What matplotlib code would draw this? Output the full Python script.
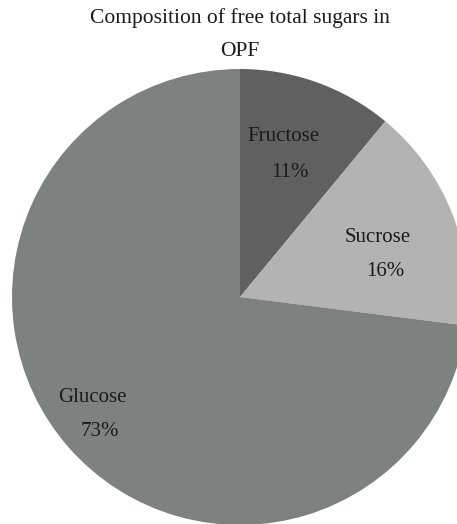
import matplotlib.pyplot as plt

# sugar composition of OPF
sugars = ['Fructose', 'Sucrose', 'Glucose']
shares = [11, 16, 73]
colors = ['#606060', '#b3b3b3', '#7f8080']

# label positions (data coords, pie radius = 1)
name_pos = [(0.189, 0.702), (0.603, 0.263), (-0.647, -0.439)]
pct_pos = [(0.219, 0.548), (0.636, 0.110), (-0.616, -0.592)]

plt.rcParams['font.family'] = ['Liberation Serif', 'DejaVu Serif']

fig = plt.figure(figsize=(4.57, 5.24), dpi=100)
# pie centre at (240, 297) px, radius 228 px
ax = fig.add_axes([12 / 457, (227 - 228) / 524, 456 / 457, 456 / 524])
ax.pie(shares, colors=colors, startangle=90, counterclock=False,
       wedgeprops=dict(linewidth=0), radius=1)
ax.set_xlim(-1, 1)
ax.set_ylim(-1, 1)
ax.set_aspect('auto')
ax.axis('off')
for w in ax.patches:
    w.set_clip_on(False)

for s, v, p1, p2 in zip(sugars, shares, name_pos, pct_pos):
    ax.text(p1[0], p1[1], s, ha='center', va='center', fontsize=15, color='#1a1a1a')
    ax.text(p2[0], p2[1], str(v) + '%', ha='center', va='center', fontsize=15, color='#1a1a1a')

fig.text(240 / 457, 1 - 18 / 524, 'Composition of free total sugars in',
         ha='center', va='center', fontsize=15.5, color='#1a1a1a')
fig.text(240 / 457, 1 - 52 / 524, 'OPF', ha='center', va='center',
         fontsize=15.5, color='#1a1a1a')

fig.savefig('out.png', dpi=100)
